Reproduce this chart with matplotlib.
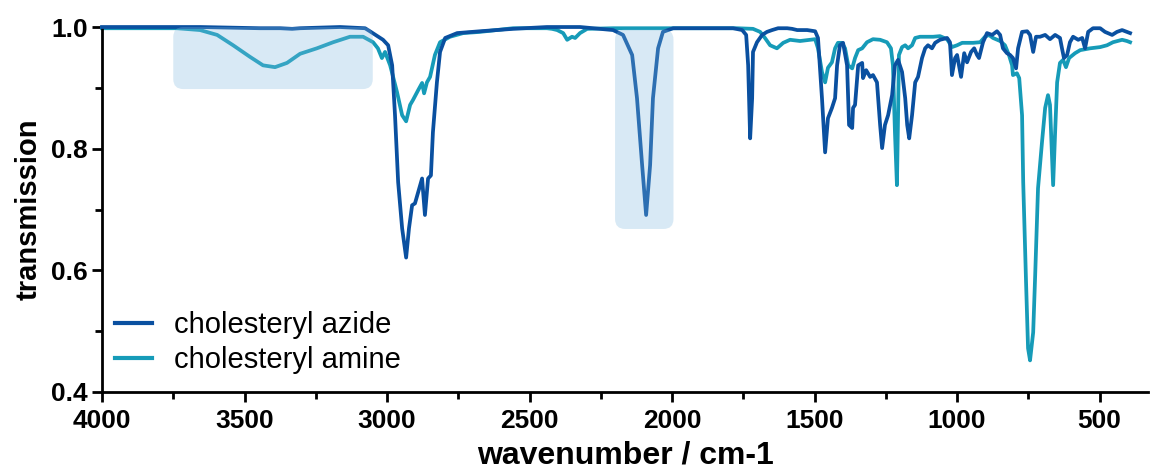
import matplotlib
matplotlib.use('Agg')
import matplotlib.pyplot as plt
from matplotlib.patches import FancyBboxPatch
from matplotlib.ticker import MultipleLocator, FormatStrFormatter

plt.rcParams['font.family'] = ['Liberation Sans', 'DejaVu Sans']

# IR spectra, wavenumber (cm-1) vs transmission
azide_wn = [4000, 3656, 3446, 3375, 3333, 3305, 3165, 3077, 3060, 3014, 2996, 2982, 2972,
            2961, 2947, 2933, 2923, 2912, 2902, 2891, 2877, 2867, 2856, 2846, 2839, 2825,
            2814, 2796, 2754, 2674, 2558, 2439, 2323, 2207, 2172, 2140, 2123, 2105, 2091,
            2077, 2067, 2049, 2032, 1996, 1902, 1786, 1754, 1740, 1733, 1726, 1719, 1716,
            1702, 1684, 1667, 1649, 1628, 1596, 1579, 1561, 1526, 1498, 1488, 1474, 1463,
            1453, 1439, 1428, 1421, 1411, 1400, 1386, 1379, 1368, 1365, 1358, 1347, 1333,
            1330, 1319, 1305, 1295, 1281, 1270, 1263, 1253, 1242, 1228, 1218, 1207, 1193,
            1182, 1175, 1168, 1158, 1147, 1137, 1123, 1112, 1102, 1088, 1077, 1060, 1035,
            1025, 1018, 1007, 1000, 986, 975, 965, 951, 940, 930, 923, 909, 895, 877, 860,
            849, 839, 825, 814, 804, 793, 786, 772, 754, 744, 733, 723, 709, 691, 674, 656,
            639, 632, 625, 614, 604, 593, 575, 561, 551, 540, 523, 498, 481, 456, 439, 421,
            404, 393]
azide_t = [1.000, 1.000, 0.998, 0.998, 0.997, 0.998, 1.000, 0.998, 0.993, 0.979, 0.970, 0.937,
           0.855, 0.745, 0.669, 0.621, 0.669, 0.707, 0.710, 0.728, 0.751, 0.691, 0.751, 0.756,
           0.827, 0.909, 0.959, 0.982, 0.990, 0.993, 0.997, 1.000, 1.000, 0.995, 0.987, 0.954,
           0.883, 0.773, 0.691, 0.773, 0.883, 0.965, 0.992, 0.998, 0.998, 0.998, 0.995, 0.987,
           0.937, 0.817, 0.883, 0.959, 0.975, 0.987, 0.992, 0.995, 0.998, 0.998, 0.997, 0.995,
           0.995, 0.993, 0.982, 0.883, 0.794, 0.850, 0.867, 0.883, 0.937, 0.970, 0.974, 0.937,
           0.839, 0.834, 0.867, 0.872, 0.937, 0.941, 0.916, 0.929, 0.918, 0.921, 0.909, 0.839,
           0.801, 0.839, 0.855, 0.888, 0.937, 0.946, 0.926, 0.883, 0.839, 0.817, 0.855, 0.909,
           0.918, 0.949, 0.965, 0.970, 0.965, 0.974, 0.979, 0.982, 0.975, 0.921, 0.949, 0.954,
           0.918, 0.957, 0.942, 0.959, 0.965, 0.954, 0.949, 0.975, 0.990, 0.987, 0.993, 0.987,
           0.965, 0.957, 0.954, 0.949, 0.932, 0.965, 0.992, 0.993, 0.987, 0.959, 0.984, 0.984,
           0.987, 0.980, 0.987, 0.982, 0.965, 0.949, 0.954, 0.975, 0.984, 0.979, 0.982, 0.965,
           0.992, 0.998, 0.998, 0.992, 0.987, 0.992, 0.995, 0.992, 0.990]

amine_wn = [4000, 3737, 3656, 3596, 3540, 3481, 3435, 3393, 3351, 3305, 3246, 3189, 3130,
            3084, 3049, 3032, 3018, 3007, 2989, 2965, 2947, 2933, 2919, 2909, 2891, 2877,
            2870, 2860, 2849, 2832, 2814, 2779, 2733, 2674, 2558, 2439, 2421, 2403, 2382,
            2368, 2351, 2340, 2323, 2298, 2207, 1902, 1772, 1716, 1691, 1674, 1656, 1632,
            1610, 1586, 1551, 1516, 1498, 1488, 1474, 1463, 1453, 1439, 1428, 1418, 1404,
            1393, 1382, 1368, 1358, 1347, 1333, 1316, 1295, 1270, 1246, 1232, 1225, 1218,
            1211, 1207, 1204, 1193, 1182, 1172, 1158, 1147, 1130, 1105, 1084, 1060, 1035,
            1018, 1000, 982, 965, 944, 919, 902, 888, 874, 849, 832, 818, 807, 804, 790,
            782, 772, 768, 758, 751, 744, 733, 726, 716, 702, 691, 681, 674, 667, 663, 656,
            649, 639, 628, 618, 607, 586, 568, 533, 498, 474, 453, 421, 404, 393]
amine_t = [0.998, 0.998, 0.995, 0.987, 0.970, 0.951, 0.937, 0.934, 0.941, 0.956, 0.965, 0.975,
           0.984, 0.984, 0.975, 0.965, 0.949, 0.959, 0.937, 0.893, 0.855, 0.845, 0.872, 0.880,
           0.896, 0.908, 0.891, 0.909, 0.918, 0.954, 0.975, 0.984, 0.990, 0.992, 0.998, 0.998,
           0.997, 0.995, 0.990, 0.979, 0.984, 0.982, 0.990, 0.997, 0.998, 0.998, 0.998, 0.997,
           0.992, 0.982, 0.970, 0.965, 0.974, 0.979, 0.977, 0.979, 0.980, 0.965, 0.926, 0.909,
           0.933, 0.942, 0.965, 0.974, 0.974, 0.965, 0.937, 0.932, 0.949, 0.962, 0.965, 0.975,
           0.980, 0.979, 0.975, 0.965, 0.937, 0.827, 0.740, 0.855, 0.954, 0.967, 0.970, 0.965,
           0.970, 0.982, 0.984, 0.984, 0.984, 0.985, 0.980, 0.967, 0.970, 0.974, 0.974, 0.974,
           0.975, 0.984, 0.987, 0.982, 0.977, 0.970, 0.954, 0.937, 0.921, 0.924, 0.916, 0.855,
           0.745, 0.580, 0.472, 0.452, 0.498, 0.592, 0.735, 0.811, 0.867, 0.888, 0.872, 0.789,
           0.740, 0.827, 0.909, 0.941, 0.946, 0.934, 0.949, 0.957, 0.962, 0.965, 0.967, 0.970,
           0.975, 0.979, 0.977, 0.975]

# highlighted bands: (wn high, wn low, T bottom, T top)
band_nh = (3750, 3050, 0.898, 1.0)
band_n3 = (2200, 1995, 0.668, 0.996)

azide_color = '#0a50a0'
amine_color = '#169bb8'

fig = plt.figure(figsize=(11.5, 4.74), dpi=100)
ax = fig.add_axes([0.0887, 0.173, 0.9096, 0.770])

ax.plot(azide_wn, azide_t, color=azide_color, lw=2.7, label='cholesteryl azide',
        clip_on=False, zorder=3, solid_joinstyle='round')
ax.plot(amine_wn, amine_t, color=amine_color, lw=2.7, label='cholesteryl amine',
        clip_on=False, zorder=2, solid_joinstyle='round')

ax.set_xlim(4000, 330)
ax.set_ylim(0.4, 1.0)

# rounded shaded boxes, laid over the traces
xpx = 1046 / (4000 - 330)
ypx = 365 / 0.6
for hi, lo, b, t in (band_nh, band_n3):
    box = FancyBboxPatch((lo, b), hi - lo, t - b,
                         boxstyle='round,pad=0,rounding_size=%f' % (10 / xpx),
                         mutation_aspect=xpx / ypx,
                         facecolor='#80b9de', alpha=0.3, edgecolor='none', zorder=4)
    ax.add_patch(box)

ax.spines['top'].set_visible(False)
ax.spines['right'].set_visible(False)
ax.spines['left'].set_linewidth(2)
ax.spines['bottom'].set_linewidth(2)

ax.xaxis.set_major_locator(MultipleLocator(500))
ax.xaxis.set_minor_locator(MultipleLocator(250))
ax.yaxis.set_major_locator(MultipleLocator(0.2))
ax.yaxis.set_minor_locator(MultipleLocator(0.1))
ax.yaxis.set_major_formatter(FormatStrFormatter('%.1f'))
ax.tick_params(which='major', length=7, width=2, labelsize=19, pad=3)
ax.tick_params(which='minor', length=5, width=2)
ax.tick_params(axis='x', which='major', pad=5)
for lab in ax.get_xticklabels() + ax.get_yticklabels():
    lab.set_fontweight('bold')

ax.set_xlabel('wavenumber / cm-1', fontsize=23, fontweight='bold', labelpad=6)
ax.set_ylabel('transmission', fontsize=21, fontweight='bold', labelpad=6)

leg = ax.legend(loc='lower left', bbox_to_anchor=(0.012, 0.05), frameon=False,
                fontsize=21, handlelength=1.3, handletextpad=0.75, labelspacing=0.22,
                borderpad=0, borderaxespad=0)
for h in leg.get_lines():
    h.set_linewidth(3)

fig.savefig('out.png', dpi=100)
